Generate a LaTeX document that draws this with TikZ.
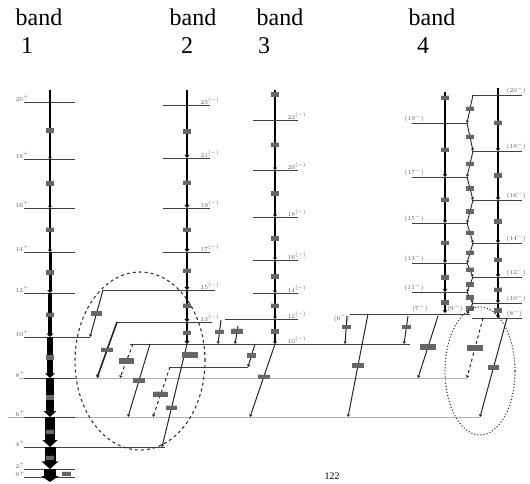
\documentclass[tikz,border=0pt]{standalone}
\usepackage{fontspec}
\setmainfont{Liberation Serif}
\usetikzlibrary{arrows.meta}

\begin{document}
\begin{tikzpicture}[x=1pt, y=-1pt,
    lvl/.style={line width=0.7pt, black!75},
    longlvl/.style={line width=0.9pt, black!30},
    tr/.style={line width=1pt, black!85, -{Triangle[length=1.6pt 0.9, width=1.4pt 1.6]}},
    dtr/.style={tr, dashed},
    en/.style={font=\fontsize{5.5}{6}\selectfont, fill=white, inner sep=0.3pt, black!60},
    sp/.style={font=\fontsize{6.5}{7}\selectfont, inner sep=0.5pt, black!65},
    title/.style={font=\fontsize{24}{28}\selectfont, inner sep=0pt, anchor=base}]
\useasboundingbox (0,0) rectangle (530,483);

% band titles
\node[title] (b1) at (39,25) {band};
\node[title] (b1n) at (27,53) {1};
\node[title] (b2) at (193,25) {band};
\node[title] (b2n) at (187,53) {2};
\node[title] (b3) at (280,25) {band};
\node[title] (b3n) at (264,53) {3};
\node[title] (b4) at (432,25) {band};
\node[title] (b4n) at (423,53) {4};

% long levels across the scheme
\draw[longlvl] (20,378) -- (467,378);
\draw[longlvl] (8,417) -- (480,417);
\draw[lvl] (130,344) -- (410,344);

% band 1
\foreach \y/\s in {102/20,159/18,208/16,252/14,293/12,378/8,417/6,469/2,477/0}
  \draw[lvl] (24,\y) -- (75,\y);
\draw[lvl] (24,337) -- (90,337);
\draw[lvl] (24,447) -- (165,447);
\foreach \y/\s in {102/20,159/18,208/16,252/14,293/12,337/10,378/8,417/6,447/4}
  \node[sp, anchor=south west] at (15,\y) {$\s^+$};
\node[sp, anchor=south west] at (15,469) {$2^+$};
\node[sp, anchor=north west] at (15,470) {$0^+$};
\draw[line width=1.6pt] (50,90) -- (50,102);
\foreach \ya/\yb/\w/\e in {102/159/1.6/806,159/208/1.8/808,208/252/2.2/717,252/293/3/720,
    293/337/4/718,337/378/6/675,378/417/8/591,417/447/10/478,447/469/11/348}
  \draw[line width=\w pt, -{Triangle[length=1pt 0.6, width=1pt 1.4]}] (50,\ya) -- (50,\yb)
    node[en, midway] {\e};
\draw[line width=12pt, -{Triangle[length=1pt 0.4, width=1pt 1.3]}] (50,469) -- (50,482);
\node[en, anchor=west] at (62,474) {126};

% band 2
\draw[line width=2.5pt] (187,90) -- (187,105);
\foreach \ya/\yb/\e in {105/158/833,158/208/875,208/252/773,252/290/677,290/322/568,322/344/468}
  \draw[line width=2.6pt, -{Triangle[length=1pt 0.8, width=1pt 1.6]}] (187,\ya) -- (187,\yb)
    node[en, midway] {\e};
\foreach \y/\s in {105/23,158/21,208/19,252/17}
  \draw[lvl] (163,\y) -- (210,\y);
\draw[lvl] (103,290) -- (215,290);
\draw[lvl] (117,322) -- (212,322);
\foreach \y/\s in {105/23,158/21,208/19,252/17,290/15,322/13}
  \node[sp, anchor=south west] at (200,\y) {$\s^{(-)}$};

% band 3
\draw[line width=1.6pt] (275,90) -- (275,120) node[en, pos=0.15] {960};
\foreach \ya/\yb/\e in {120/170/925,170/217/874,217/260/779,260/293/690,293/319/583,319/344/508}
  \draw[line width=1.6pt, -{Triangle[length=1pt 0.9, width=1pt 1.8]}] (275,\ya) -- (275,\yb)
    node[en, midway] {\e};
\foreach \y in {120,170,217,260,293}
  \draw[lvl] (253,\y) -- (298,\y);
\draw[lvl] (225,319) -- (298,319);
\foreach \y/\s in {120/22,170/20,217/18,260/16,293/14,319/12,344/10}
  \node[sp, anchor=south west] at (287,\y) {$\s^{(-)}$};

% band 4, left and right sequences
\draw[line width=1.8pt] (445,92) -- (445,123) node[en, pos=0.2] {947};
\foreach \ya/\yb/\e in {123/177/859,177/223/777,223/263/686,263/292/554,292/313/476}
  \draw[line width=1.8pt, -{Triangle[length=1pt 0.9, width=1pt 1.8]}] (445,\ya) -- (445,\yb)
    node[en, midway] {\e};
\draw[line width=1.8pt] (498,88) -- (498,95);
\foreach \ya/\yb/\e in {95/151/905,151/200/833,200/243/768,243/277/703,277/303/617,303/318/517}
  \draw[line width=1.8pt, -{Triangle[length=1pt 0.9, width=1pt 1.8]}] (498,\ya) -- (498,\yb)
    node[en, midway] {\e};
\foreach \y/\s in {123/19,177/17,223/15,263/13,292/11}
  {\draw[lvl] (412,\y) -- (468,\y);
   \node[sp, anchor=south west] at (404,\y) {$(\s^-)$};}
\foreach \y/\s in {95/20,151/18,200/16,243/14,277/12,303/10,318/8}
  {\draw[lvl] (472,\y) -- (522,\y);
   \node[sp, anchor=south west] at (506,\y) {$(\s^-)$};}
\draw[lvl] (350,314) -- (470,314);
\node[sp, anchor=east] at (350,318) {$(6^-)$};
\node[sp, anchor=south] at (420,313) {$(7^-)$};
\node[sp, anchor=south] at (455,313) {$(9^-)$};

% linking transitions inside band 4
\foreach \ya/\xa/\yb/\xb/\e in {95/473/123/467/407,123/467/151/473/448,151/473/177/467/430,
    177/467/200/473/399,200/473/223/467/372,223/467/243/473/344,243/473/263/467/312,
    263/467/277/473/277,277/473/292/467/262,292/467/303/473/233,303/473/314/467/204}
  \draw[tr, line width=0.9pt] (\xa,\ya) -- (\xb,\yb) node[en, midway] {\e};

% out-of-band transitions, left part
\draw[tr] (103,290) -- (90,337) node[en, midway] {7767};
\draw[tr, line width=1.6pt] (117,322) -- (97,378) node[en, midway] {8440};
\draw[tr] (150,344) -- (128,417) node[en, midway] {7764};
\draw[dtr] (133,344) -- (120,378) node[en, midway] {(5924)};
\draw[lvl] (170,367) -- (248,367);
\draw[dtr] (170,367) -- (153,417) node[en, pos=0.55] {(7926)};
\draw[tr] (187,344) -- (162,447) node[en, pos=0.62] {7975};
\node[en] at (190,355) {(3522)};
\draw[tr] (221,320) -- (218,344) node[en, midway] {449};
\draw[tr] (238,326) -- (235,344) node[en, pos=0.3] {(533)};
\draw[tr] (255,344) -- (248,367) node[en, midway] {465};
\draw[tr] (275,344) -- (250,417) node[en, pos=0.45] {7358};

% out-of-band transitions, right part
\draw[tr] (347,316) -- (345,344) node[en, pos=0.4] {430};
\draw[tr] (408,316) -- (404,344) node[en, pos=0.4] {425};
\draw[tr] (368,314) -- (348,417) node[en, midway] {7626};
\draw[tr] (438,316) -- (418,378) node[en, midway] {(9332)};
\draw[dtr] (483,318) -- (467,378) node[en, midway] {(9445)};
\draw[tr] (507,318) -- (480,417) node[en, pos=0.5] {9550};

% regions of interest
\draw[dashed, line width=1.1pt, black!80] (140,361) ellipse [x radius=65pt, y radius=89pt];
\draw[dotted, line width=1.1pt, black!80] (480,371) ellipse [x radius=35pt, y radius=64pt];

% nucleus label at the lower edge
\node[font=\fontsize{10}{12}\selectfont, anchor=south, inner sep=0pt] (nuc) at (332,480) {122};
\end{tikzpicture}
\end{document}
